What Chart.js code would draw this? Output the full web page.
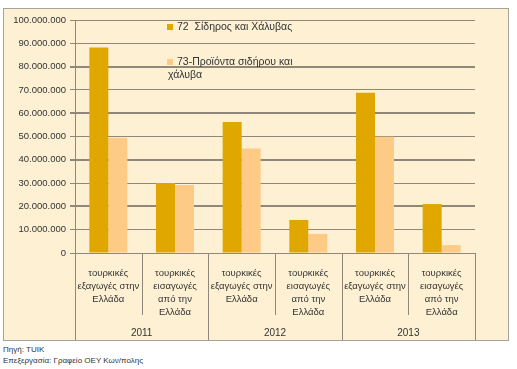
<!DOCTYPE html>
<html>
<head>
<meta charset="utf-8">
<script src="https://cdn.jsdelivr.net/npm/chart.js@4"></script>
<style>
  body { margin: 0; background: #fff; font-family: 'Liberation Sans', sans-serif; }
  #box { position: absolute; left: 3px; top: 8px; width: 504px; height: 331px; background: #fef1d3; border: 1px solid #a7a29a; }
  #footer { position: absolute; left: 3px; top: 344px; font-size: 8px; line-height: 11px; color: #333; }
</style>
</head>
<body>
<div id="box"><canvas id="chart" width="504" height="331"></canvas></div>
<div id="footer">Πηγή: TUIK<br>Επεξεργασία: Γραφείο ΟΕΥ Κων/πολης</div>
<script>
const categories = [
  ['τουρκικές', 'εξαγωγές στην', 'Ελλάδα'],
  ['τουρκικές', 'εισαγωγές', 'από την', 'Ελλάδα'],
  ['τουρκικές', 'εξαγωγές στην', 'Ελλάδα'],
  ['τουρκικές', 'εισαγωγές', 'από την', 'Ελλάδα'],
  ['τουρκικές', 'εξαγωγές στην', 'Ελλάδα'],
  ['τουρκικές', 'εισαγωγές', 'από την', 'Ελλάδα']
]
const years = ['2011', '2012', '2013']
const ironSteel = [88200000, 30000000, 56200000, 14200000, 68800000, 21000000]
const steelProducts = [49500000, 29200000, 44900000, 8200000, 49900000, 3400000]
const seriesNames = [['72  Σίδηρος και Χάλυβας'], ['73-Προϊόντα σιδήρου και', 'χάλυβα']]

const gridColor = '#8f877a'
const textColor = '#333333'

// legend drawn inside the plot area
const insideLegend = {
  id: 'insideLegend',
  afterDraw(chart) {
    const ctx = chart.ctx
    const area = chart.chartArea
    const rows = [area.top + 7, area.top + 42]
    ctx.save()
    ctx.font = '10.5px "Liberation Sans"'
    ctx.textBaseline = 'middle'
    chart.data.datasets.forEach((ds, i) => {
      const x = area.left + 93
      const y = rows[i]
      ctx.fillStyle = ds.backgroundColor
      ctx.fillRect(x - 1, y - 3, 6, 6)
      ctx.fillStyle = textColor
      ds.legendLines.forEach((line, j) => {
        ctx.fillText(line, x + 9 - (j > 0 ? 9 : 0), y + j * 13)
      })
    })
    ctx.restore()
  }
}

// vertical separators of the two-level category axis
const separators = {
  id: 'separators',
  afterDraw(chart) {
    const ctx = chart.ctx
    const xs = chart.scales.x
    const step = (xs.right - xs.left) / categories.length
    ctx.save()
    ctx.strokeStyle = gridColor
    ctx.lineWidth = 1
    for (let i = 0; i <= categories.length; i++) {
      const x = Math.round(xs.left + i * step) + 0.5
      const bottom = i % 2 === 0 ? chart.height : xs.top + 62
      ctx.beginPath()
      ctx.moveTo(x, xs.top)
      ctx.lineTo(x, bottom)
      ctx.stroke()
    }
    ctx.restore()
  }
}

const ctx = document.getElementById('chart').getContext('2d')
new Chart(ctx, {
  type: 'bar',
  data: {
    labels: categories,
    datasets: [
      { label: seriesNames[0].join(' '), legendLines: seriesNames[0], data: ironSteel, backgroundColor: '#dfa700' },
      { label: seriesNames[1].join(' '), legendLines: seriesNames[1], data: steelProducts, backgroundColor: '#fdcb86' }
    ]
  },
  options: {
    responsive: false,
    animation: false,
    layout: { padding: { top: 11, right: 33, bottom: 0, left: 0 } },
    datasets: { bar: { categoryPercentage: 0.57, barPercentage: 1.0 } },
    plugins: { legend: { display: false }, tooltip: { enabled: false } },
    scales: {
      y: {
        min: 0,
        max: 100000000,
        ticks: {
          stepSize: 10000000,
          color: textColor,
          font: { family: 'Liberation Sans', size: 9.5 },
          padding: 4,
          callback: v => v.toString().replace(/\B(?=(\d{3})+(?!\d))/g, '.')
        },
        grid: {
          color: gridColor,
          lineWidth: c => (c.index % 2 === 0 && c.index > 0 && c.index < 10 ? 2 : 1),
          tickLength: 5
        },
        border: { color: gridColor, width: 1 },
        afterFit: s => { s.width = 71 }
      },
      x: {
        ticks: {
          color: textColor,
          font: { family: 'Liberation Sans', size: 9.5, lineHeight: 1.35 },
          padding: 6,
          maxRotation: 0,
          autoSkip: false
        },
        grid: { display: false },
        border: { color: gridColor, width: 1 },
        afterFit: s => { s.height = 64 }
      },
      x2: {
        type: 'category',
        labels: years,
        position: 'bottom',
        ticks: { color: textColor, font: { family: 'Liberation Sans', size: 10 }, padding: 2 },
        grid: { display: false },
        border: { display: false },
        afterFit: s => { s.height = 23 }
      }
    }
  },
  plugins: [insideLegend, separators]
})
</script>
</body>
</html>
